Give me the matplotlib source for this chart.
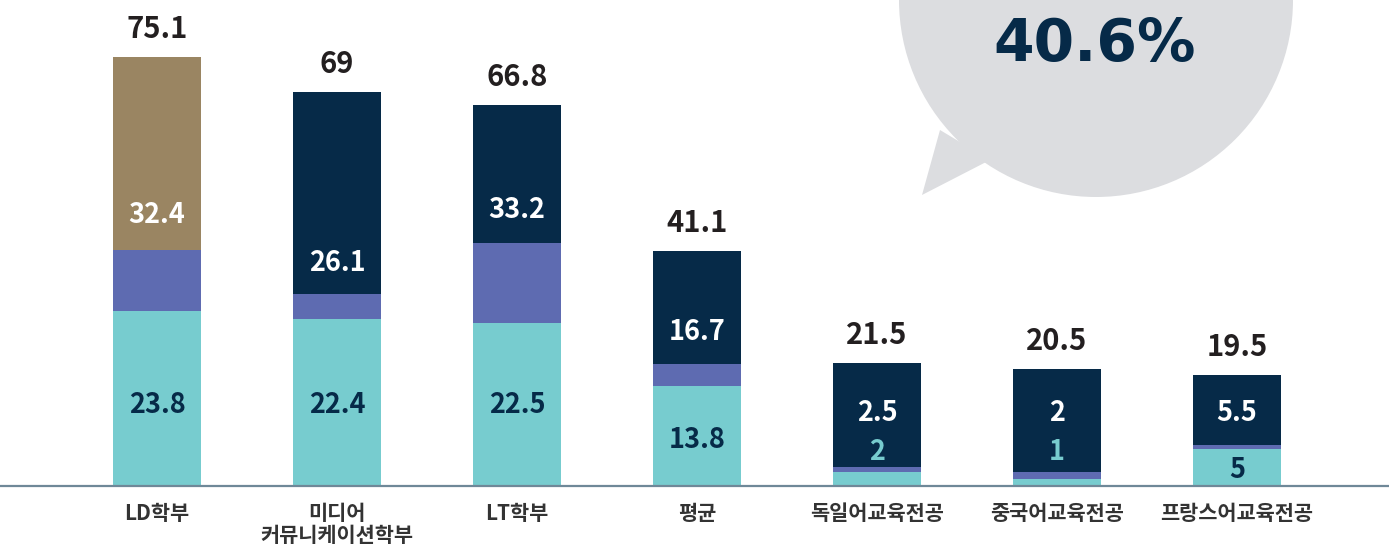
import matplotlib.pyplot as plt
from matplotlib.patches import Circle, Polygon

plt.rcParams['font.family'] = ['Noto Sans CJK KR', 'DejaVu Sans']

# data
categories = ['LD학부', '미디어\n커뮤니케이션학부', 'LT학부', '평균',
              '독일어교육전공', '중국어교육전공', '프랑스어교육전공']
seg_bottom = [30.7, 29.2, 28.6, 17.6, 2.4, 1.2, 6.4]
seg_mid = [10.6, 4.4, 14.0, 3.8, 0.9, 1.2, 0.7]
seg_top = [33.8, 35.4, 24.2, 19.7, 18.2, 18.1, 12.4]
total_labels = ['75.1', '69', '66.8', '41.1', '21.5', '20.5', '19.5']
top_labels = ['32.4', '26.1', '33.2', '16.7', '2.5', '2', '5.5']
bottom_labels = ['23.8', '22.4', '22.5', '13.8', '2', '1', '5']
bubble_text = '40.6%'

# label heights inside the bars (layout)
top_label_y = [47.5, 39.1, 48.3, 27.0, 12.8, 12.8, 12.8]
bottom_label_y = [14.2, 14.2, 14.2, 8.1, 6.0, 6.0, 2.8]

teal = '#77cccf'
purple = '#5e6bb1'
navy = '#062a48'
tan = '#9a8562'
top_colors = [tan] + [navy] * 6

fig = plt.figure(figsize=(13.89, 5.53), dpi=100)

# background speech bubble in pixel coords
bg = fig.add_axes([0, 0, 1, 1])
bg.set_xlim(0, 1389)
bg.set_ylim(553, 0)
bg.axis('off')
bg.add_patch(Circle((1096, 0), 197, color='#dcdde0', lw=0))
bg.add_patch(Polygon([(940, 130), (922, 195), (990, 160)], closed=True,
                     color='#dcdde0', lw=0))
bg.text(1095, 44, bubble_text, ha='center', va='center', fontsize=42,
        fontweight='bold', color=navy, family='DejaVu Sans')

ax = fig.add_axes([0, 0, 1, 1])
ax.patch.set_alpha(0)
x = list(range(len(categories)))
w = 0.49
ax.bar(x, seg_bottom, w, color=teal, lw=0)
b2 = [a for a in seg_bottom]
ax.bar(x, seg_mid, w, bottom=b2, color=purple, lw=0)
b3 = [a + b for a, b in zip(seg_bottom, seg_mid)]
ax.bar(x, seg_top, w, bottom=b3, color=top_colors, lw=0)
ax.axhline(0, color='#6f8898', lw=1.6)

for i in x:
    total = b3[i] + seg_top[i]
    ax.text(i, total + 3.3, total_labels[i], ha='center', va='baseline',
            fontsize=21, fontweight='bold', color='#231f20')
    ax.text(i, top_label_y[i], top_labels[i], ha='center', va='center',
            fontsize=19.5, fontweight='bold', color='white')
    c = navy if seg_bottom[i] > 5 else teal
    ax.text(i, bottom_label_y[i], bottom_labels[i], ha='center', va='center',
            fontsize=19.5, fontweight='bold', color=c)
    ax.text(i, -2.9, categories[i], ha='center', va='top', fontsize=15,
            fontweight='bold', color='#333333', linespacing=1.1)

ax.set_xlim(-157 / 180, (1389 - 157) / 180)
ax.set_ylim(-67 / 5.71, 486 / 5.71)
ax.axis('off')

fig.savefig('out.png', dpi=100)
